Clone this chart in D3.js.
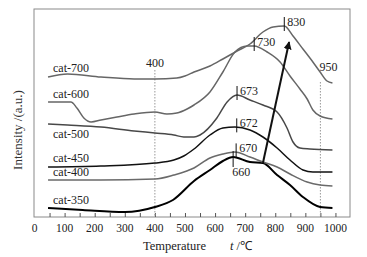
<!DOCTYPE html>
<html>
<head>
<meta charset="utf-8">
<script src="https://cdn.jsdelivr.net/npm/d3@7"></script>
<style>
  body { margin: 0; background: #fff; }
  svg { display: block; font-family: "Liberation Serif", "Times New Roman", serif; }
</style>
</head>
<body>
<svg id="chart" width="367" height="257"></svg>
<script>
// data: [temperature °C, intensity a.u.]
const cat350 = [[45,9],[160,7],[300,5],[400,10],[460,17],[530,36],[583,47],[626,56],[660,60],[716,55],[759,54],[806,42],[849,32],[892,20],[949,10],[990,9]];
const cat400 = [[45,37],[220,37],[400,38],[463,42],[530,49],[583,59],[626,63],[666,65],[716,60],[759,55],[806,50],[849,43],[906,35],[949,32],[990,31]];
const cat450 = [[45,50],[220,51],[400,54],[463,57],[496,61],[530,68],[583,82],[626,89],[666,90],[716,87],[759,80],[806,69],[849,57],[892,47],[925,45],[990,45]];
const cat500 = [[45,93],[110,92],[221,90],[331,86],[400,84],[463,82],[496,80],[530,80],[550,82],[606,99],[640,115],[673,122],[716,117],[759,112],[806,105],[839,89],[859,75],[882,69],[915,68],[990,67]];
const cat600 = [[45,115],[121,115],[141,109],[164,99],[188,95],[221,97],[274,100],[331,103],[400,105],[440,103],[473,104],[507,108],[530,112],[583,125],[626,145],[666,165],[706,171],[730,171],[773,165],[816,155],[849,141],[882,128],[906,118],[925,107],[949,101],[990,98]];
const cat700 = [[45,140],[110,143],[221,140],[331,138],[400,138],[473,139],[500,141],[530,145],[583,151],[626,158],[673,166],[716,173],[759,185],[793,190],[830,191],[859,181],[892,168],[925,155],[949,145],[972,136],[990,134]];

const seriesNames = ["cat-350", "cat-400", "cat-450", "cat-500", "cat-600", "cat-700"];
const seriesData = [cat350, cat400, cat450, cat500, cat600, cat700];

// peak markers: temperature, which series
const peakTemps = [660, 670, 672, 673, 730, 830];
const peakSeries = ["cat-350", "cat-400", "cat-450", "cat-500", "cat-600", "cat-700"];

const guideTemps = [400, 950];
const xTicks = d3.range(0, 1001, 100);
const arrowFrom = [759, 54];
const arrowTo = [846, 175];

const svg = d3.select("#chart");
const x = d3.scaleLinear().domain([0, 1050]).range([34.5, 350.5]);
const y = d3.scaleLinear().domain([0, 208]).range([217, 9]);

const style = {
  "cat-350": { color: "#000", w: 2, dy: -4 },
  "cat-400": { color: "#6a6a6a", w: 1.5, dy: -4 },
  "cat-450": { color: "#111", w: 1.5, dy: -5 },
  "cat-500": { color: "#484848", w: 1.5, dy: 14 },
  "cat-600": { color: "#666", w: 1.5, dy: -4 },
  "cat-700": { color: "#666", w: 1.5, dy: -5 }
};

// frame
svg.append("rect")
  .attr("x", x(0) - 0.5).attr("y", y(208))
  .attr("width", x(1050) - x(0)).attr("height", y(0) - y(208))
  .attr("fill", "none").attr("stroke", "#8a8a8a").attr("stroke-width", 1);

// x axis: inward ticks every 50, labels every 100
const axisG = svg.append("g").attr("transform", `translate(0,${y(0)})`);
axisG.call(d3.axisBottom(x).tickValues(d3.range(50, 1001, 50)).tickSizeInner(-4).tickSizeOuter(0).tickFormat(""));
axisG.select(".domain").remove();
axisG.selectAll("line").attr("stroke", "#555");

svg.append("g").selectAll("text")
  .data(xTicks)
  .enter()
  .append("text")
  .attr("x", d => x(d))
  .attr("y", 232)
  .attr("text-anchor", "middle")
  .attr("font-size", 11.5)
  .attr("fill", "#222")
  .text(d => d);

// dotted guide lines
guideTemps.forEach(t => {
  svg.append("line")
    .attr("x1", x(t)).attr("x2", x(t))
    .attr("y1", t === 400 ? 70 : 82).attr("y2", y(0))
    .attr("stroke", "#999").attr("stroke-width", 1).attr("stroke-dasharray", "1.5,1.5");
  svg.append("text")
    .attr("x", x(t) + (t === 400 ? 0 : 8))
    .attr("y", t === 400 ? 67 : 71)
    .attr("text-anchor", "middle")
    .attr("font-size", 12)
    .attr("fill", "#222")
    .text(t);
});

// curves
const line = d3.line()
  .x(d => x(d[0]))
  .y(d => y(d[1]))
  .curve(d3.curveMonotoneX);

seriesNames.forEach((name, i) => {
  const s = style[name];
  svg.append("path")
    .datum(seriesData[i])
    .attr("fill", "none")
    .attr("stroke", s.color)
    .attr("stroke-width", s.w)
    .attr("stroke-linejoin", "round")
    .attr("d", line);
  svg.append("text")
    .attr("x", 53)
    .attr("y", y(seriesData[i][0][1]) + s.dy)
    .attr("font-size", 12)
    .attr("fill", "#222")
    .text(name);
});

// value of a series at temperature t
function valueAt(data, t) {
  const i = d3.bisector(d => d[0]).left(data, t);
  if (i <= 0) return data[0][1];
  if (i >= data.length) return data[data.length - 1][1];
  const a = data[i - 1], b = data[i];
  return a[1] + (b[1] - a[1]) * (t - a[0]) / (b[0] - a[0]);
}

// peak ticks + labels
peakTemps.forEach((t, i) => {
  const data = seriesData[seriesNames.indexOf(peakSeries[i])];
  const py = y(valueAt(data, t));
  const below = t === 660;
  const top = below ? py - 6 : py - 9;
  const bottom = below ? py + 10 : py + 5;
  svg.append("line")
    .attr("x1", x(t)).attr("x2", x(t))
    .attr("y1", top).attr("y2", bottom)
    .attr("stroke", "#111").attr("stroke-width", 1);
  svg.append("text")
    .attr("x", below ? x(t) + 8 : x(t) + 3)
    .attr("y", below ? py + 19 : top + 9)
    .attr("text-anchor", below ? "middle" : "start")
    .attr("font-size", 12)
    .attr("fill", "#222")
    .text(t);
});

// trend arrow
svg.append("defs").append("marker")
  .attr("id", "head")
  .attr("viewBox", "0 0 10 10")
  .attr("refX", 9).attr("refY", 5)
  .attr("markerWidth", 4).attr("markerHeight", 4)
  .attr("orient", "auto")
  .append("path")
  .attr("d", "M0,0 L10,5 L0,10 z")
  .attr("fill", "#111");

svg.append("line")
  .attr("x1", x(arrowFrom[0])).attr("y1", y(arrowFrom[1]))
  .attr("x2", x(arrowTo[0])).attr("y2", y(arrowTo[1]))
  .attr("stroke", "#111").attr("stroke-width", 2)
  .attr("marker-end", "url(#head)");

// axis titles
svg.append("text")
  .attr("transform", "translate(22,130) rotate(-90)")
  .attr("text-anchor", "middle")
  .attr("font-size", 13)
  .attr("fill", "#333")
  .text("Intensity /(a.u.)");

svg.append("text")
  .attr("x", 143)
  .attr("y", 250)
  .attr("font-size", 12.5)
  .attr("fill", "#222")
  .text("Temperature");

const unit = svg.append("text")
  .attr("x", 230)
  .attr("y", 250)
  .attr("font-size", 12.5)
  .attr("fill", "#222");
unit.append("tspan").attr("font-style", "italic").text("t");
unit.append("tspan").text(" /\u2103");
</script>
</body>
</html>
